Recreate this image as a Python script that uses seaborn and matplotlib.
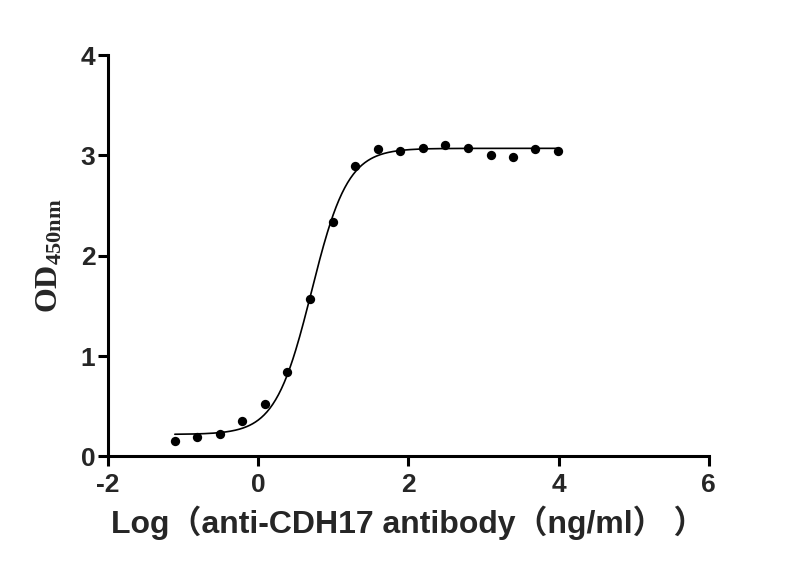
import numpy as np
import pandas as pd
import matplotlib
matplotlib.use("Agg")
import matplotlib.pyplot as plt
import seaborn as sns

# ---- data ----
log_conc = [-1.11, -0.81, -0.51, -0.21, 0.09, 0.39, 0.69, 0.99, 1.29, 1.59,
            1.89, 2.19, 2.49, 2.79, 3.10, 3.39, 3.69, 3.99]
od450 = [0.15, 0.19, 0.22, 0.35, 0.52, 0.84, 1.57, 2.34, 2.89, 3.06,
         3.04, 3.07, 3.10, 3.07, 3.00, 2.98, 3.06, 3.04]

# four-parameter logistic fit parameters (estimated from the drawn curve)
fit_bottom = 0.22
fit_top = 3.07
fit_log_ec50 = 0.71
fit_hill = 1.8

x_ticks = [-2, 0, 2, 4, 6]
y_ticks = [0, 1, 2, 3, 4]
x_label = "Log（anti-CDH17 antibody（ng/ml） ）"

# ---- figure ----
sns.set_style("ticks")
plt.rcParams['mathtext.fontset'] = 'custom'
plt.rcParams['mathtext.rm'] = 'Liberation Serif'
plt.rcParams['mathtext.bf'] = 'Liberation Serif:bold'
plt.rcParams['font.family'] = ['Liberation Sans', 'Noto Sans CJK SC']

fig = plt.figure(figsize=(8.0, 5.79), dpi=100)
ax = fig.add_axes([0.135, 0.2116, 0.751, 0.6934])

df = pd.DataFrame({"x": log_conc, "y": od450})
sns.scatterplot(data=df, x="x", y="y", ax=ax, color="black", s=45,
                edgecolor="black", linewidth=0, zorder=3)

xf = np.linspace(min(log_conc), max(log_conc), 400)
yf = fit_bottom + (fit_top - fit_bottom) / (1 + 10 ** ((fit_log_ec50 - xf) * fit_hill))
sns.lineplot(x=xf, y=yf, ax=ax, color="black", linewidth=1.2, zorder=2)

ax.set_xlim(-2, 6)
ax.set_ylim(0, 4)
ax.set_xticks(x_ticks)
ax.set_yticks(y_ticks)
ax.set_xticklabels([str(v) for v in x_ticks], fontsize=19, fontweight='bold')
ax.set_yticklabels([str(v) for v in y_ticks], fontsize=19, fontweight='bold')
ax.tick_params(axis='x', length=7, width=2.2, color='black', pad=5)
ax.tick_params(axis='y', length=7, width=2.2, color='black', pad=2)

for s in ['top', 'right']:
    ax.spines[s].set_visible(False)
for s in ['left', 'bottom']:
    ax.spines[s].set_linewidth(2.2)
    ax.spines[s].set_color('black')

ax.set_xlabel(x_label, fontsize=23, fontweight='bold',
              family=['Liberation Sans', 'Noto Sans CJK SC'], labelpad=6)
ax.set_ylabel(r'$\mathbf{OD_{450nm}}$', fontsize=23, labelpad=12)

fig.savefig("out.png", dpi=100, facecolor='white')
